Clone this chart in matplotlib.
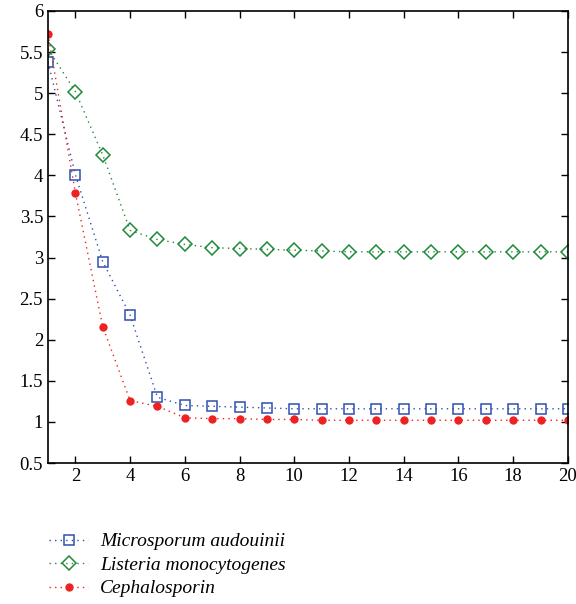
import numpy as np
import matplotlib.pyplot as plt

plt.rcParams['font.family'] = ['Liberation Serif', 'DejaVu Serif']

# Data
x = np.arange(1, 21)
micro = [5.38, 4.01, 2.95, 2.30, 1.30, 1.20, 1.19, 1.18, 1.17, 1.16,
         1.16, 1.16, 1.16, 1.16, 1.16, 1.16, 1.16, 1.16, 1.16, 1.16]
listeria = [5.54, 5.02, 4.25, 3.33, 3.22, 3.16, 3.12, 3.11, 3.10, 3.09,
            3.08, 3.07, 3.07, 3.07, 3.07, 3.07, 3.07, 3.07, 3.07, 3.07]
cepha = [5.72, 3.79, 2.16, 1.26, 1.19, 1.05, 1.04, 1.04, 1.03, 1.03,
         1.02, 1.02, 1.02, 1.02, 1.02, 1.02, 1.02, 1.02, 1.02, 1.02]
labels = ['Microsporum audouinii', 'Listeria monocytogenes', 'Cephalosporin']

fig = plt.figure(figsize=(5.76, 6.04), dpi=100)
ax = fig.add_axes([0.0833, 0.2334, 0.9027, 0.7484])

dots = (0, (1, 3))
ax.plot(x, micro, linestyle=dots, color='#2f4fb0', marker='s', markersize=7,
        markerfacecolor='none', markeredgewidth=1.1, linewidth=1.0,
        label=labels[0])
ax.plot(x, listeria, linestyle=dots, color='#1f8a3a', marker='D',
        markersize=7, markerfacecolor='none', markeredgewidth=1.1,
        linewidth=1.0, label=labels[1])
ax.plot(x, cepha, linestyle=dots, color='#ee2222', marker='o', markersize=6,
        markeredgewidth=0, linewidth=1.0, label=labels[2])

ax.set_xlim(1, 20)
ax.set_ylim(0.5, 6)
ax.set_xticks(np.arange(2, 21, 2))
ax.set_yticks(np.arange(0.5, 6.01, 0.5))
ax.set_yticklabels(['0.5', '1', '1.5', '2', '2.5', '3', '3.5', '4', '4.5',
                    '5', '5.5', '6'])
ax.tick_params(direction='in', top=True, right=True, labelsize=13.5,
               length=5, width=1)
for s in ax.spines.values():
    s.set_linewidth(1.2)

fig.legend(loc='lower left', bbox_to_anchor=(0.055, -0.018), frameon=False,
           handlelength=2.0, handletextpad=0.6, labelspacing=0.3,
           prop={'style': 'italic', 'size': 14})

fig.savefig('out.png', dpi=100)
